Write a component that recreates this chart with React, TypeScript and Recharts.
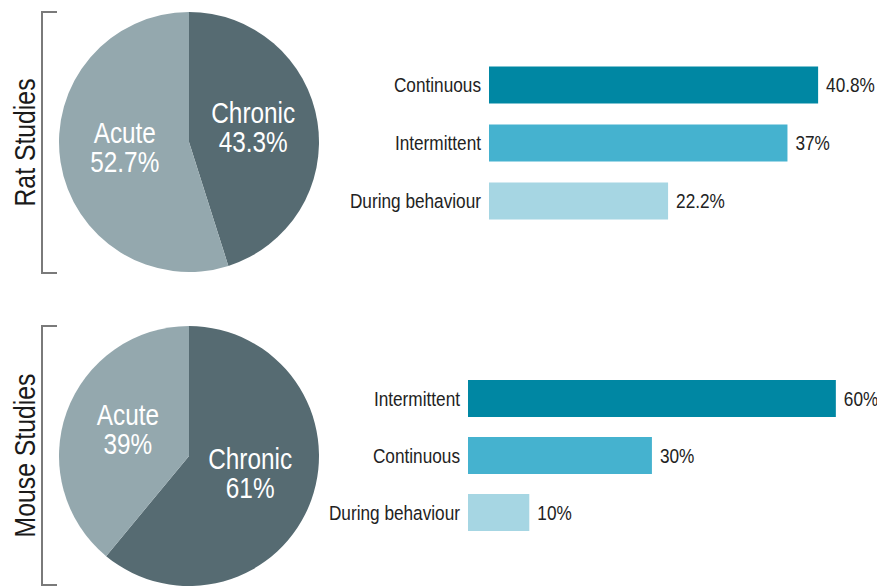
import React from 'react';
import { PieChart, Pie, Cell, BarChart, Bar, XAxis, YAxis, LabelList } from 'recharts';

// Pie data (share of studies, %)
const pieNames = ['Chronic', 'Acute'];
const ratPie = [43.3, 52.7];
const mousePie = [61, 39];

// Bar data (stimulation protocol, %)
const ratBarCats = ['Continuous', 'Intermittent', 'During behaviour'];
const ratBarVals = [40.8, 37, 22.2];
const mouseBarCats = ['Intermittent', 'Continuous', 'During behaviour'];
const mouseBarVals = [60, 30, 10];

const PIE_COLORS = ['#566b72', '#94a8ae'];
const BAR_COLORS = ['#0087a3', '#45b2cf', '#a6d6e3'];
// narrow look: Liberation Sans squeezed horizontally
const FONT = '"Liberation Sans", Arial, sans-serif';
const SQUEEZE = 0.84;

const RAD = Math.PI / 180;

const NarrowText = ({ x, y, children, size, fill, anchor = 'start', rotate = 0, baseline }: any) => (
  <text
    transform={`translate(${x} ${y}) rotate(${rotate}) scale(${SQUEEZE} 1)`}
    textAnchor={anchor}
    dominantBaseline={baseline}
    fontSize={size}
    fill={fill}
    fontFamily={FONT}
  >
    {children}
  </text>
);

const pieLabel = (props: any) => {
  const { cx, cy, midAngle, outerRadius, name, value } = props;
  const r = outerRadius * 0.5;
  const x = cx + r * Math.cos(-midAngle * RAD);
  const y = cy + r * Math.sin(-midAngle * RAD) - 4;
  return (
    <g>
      <NarrowText x={x} y={y - 5} size={29} fill="#fff" anchor="middle">{name}</NarrowText>
      <NarrowText x={x} y={y + 24} size={29} fill="#fff" anchor="middle">{`${value}%`}</NarrowText>
    </g>
  );
};

const StudyPie = ({ values, top }: { values: number[]; top: number }) => {
  const data = pieNames.map((name, i) => ({ name, value: values[i] }));
  return (
    <div style={{ position: 'absolute', left: 0, top, width: 330, height: 290 }}>
      <PieChart width={330} height={290} margin={{ top: 0, right: 0, bottom: 0, left: 0 }}>
        <Pie
          data={data}
          dataKey="value"
          nameKey="name"
          cx={189}
          cy={142}
          outerRadius={130}
          startAngle={90}
          endAngle={-270}
          stroke="none"
          label={pieLabel}
          labelLine={false}
          isAnimationActive={false}
        >
          {data.map((d, i) => (
            <Cell key={d.name} fill={PIE_COLORS[i]} />
          ))}
        </Pie>
      </PieChart>
    </div>
  );
};

const CatTick = (props: any) => {
  const { x, y, payload } = props;
  return (
    <NarrowText x={x} y={y} size={20.5} fill="#222" anchor="end" baseline="central">
      {payload.value}
    </NarrowText>
  );
};

const ValueLabel = (props: any) => {
  const { x, y, width, height, value } = props;
  return (
    <NarrowText x={x + width + 8} y={y + height / 2} size={20.5} fill="#222" baseline="central">
      {`${value}%`}
    </NarrowText>
  );
};

const StudyBars = ({
  cats, values, left, top, width, height, axisWidth, max, margin,
}: {
  cats: string[]; values: number[]; left: number; top: number; width: number; height: number;
  axisWidth: number; max: number; margin: { top: number; right: number; bottom: number; left: number };
}) => {
  const data = cats.map((c, i) => ({ cat: c, value: values[i] }));
  return (
    <div style={{ position: 'absolute', left, top, width, height }}>
      <BarChart width={width} height={height} data={data} layout="vertical" margin={margin}>
        <XAxis type="number" domain={[0, max]} hide />
        <YAxis
          type="category"
          dataKey="cat"
          width={axisWidth}
          axisLine={false}
          tickLine={false}
          tick={<CatTick />}
        />
        <Bar dataKey="value" barSize={37} isAnimationActive={false}>
          {data.map((d, i) => (
            <Cell key={d.cat} fill={BAR_COLORS[i]} />
          ))}
          <LabelList dataKey="value" content={<ValueLabel />} />
        </Bar>
      </BarChart>
    </div>
  );
};

const Bracket = ({ top, bottom, label }: { top: number; bottom: number; label: string }) => {
  const mid = (top + bottom) / 2;
  return (
    <g>
      <path d={`M57 ${top} H42 V${bottom} H57`} fill="none" stroke="#7a7a7a" strokeWidth={2} />
      <NarrowText x={25} y={mid} size={29.5} fill="#1a1a1a" anchor="middle" rotate={-90} baseline="central">
        {label}
      </NarrowText>
    </g>
  );
};

export default function App() {
  return (
    <div style={{ position: 'absolute', left: 0, top: 0, width: 877, height: 587, background: '#fff', overflow: 'hidden' }}>
      <svg width={877} height={587} style={{ position: 'absolute', left: 0, top: 0 }}>
        <Bracket top={12} bottom={273} label="Rat Studies" />
        <Bracket top={326} bottom={585} label="Mouse Studies" />
      </svg>
      <StudyPie values={ratPie} top={0} />
      <StudyPie values={mousePie} top={314} />
      <StudyBars
        cats={ratBarCats}
        values={ratBarVals}
        left={330}
        top={40}
        width={547}
        height={200}
        axisWidth={159}
        max={45}
        margin={{ top: 15.5, right: 25, bottom: 10.5, left: 0 }}
      />
      <StudyBars
        cats={mouseBarCats}
        values={mouseBarVals}
        left={310}
        top={350}
        width={567}
        height={210}
        axisWidth={158}
        max={65}
        margin={{ top: 20, right: 10.5, bottom: 19, left: 0 }}
      />
    </div>
  );
}
